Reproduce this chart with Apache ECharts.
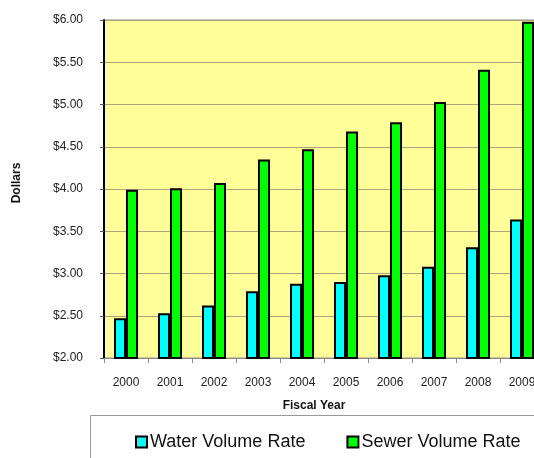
<!DOCTYPE html>
<html>
<head>
<meta charset="utf-8">
<script src="https://cdn.jsdelivr.net/npm/echarts@6/dist/echarts.min.js"></script>
<style>
  html, body { margin: 0; padding: 0; background: #fff; overflow: hidden; }
  /* the plot runs past the right edge of the window, as in the original */
  #chart { width: 570px; height: 458px; }
</style>
</head>
<body>
<div id="chart"></div>
<script>
const years = ['2000', '2001', '2002', '2003', '2004', '2005', '2006', '2007', '2008', '2009']
const waterRate = [2.47, 2.53, 2.62, 2.79, 2.88, 2.90, 2.98, 3.08, 3.31, 3.64]
const sewerRate = [3.99, 4.01, 4.07, 4.35, 4.47, 4.68, 4.79, 5.03, 5.41, 5.98]

const font = 'Liberation Sans, Arial, sans-serif'

const myChart = echarts.init(document.getElementById('chart'))

myChart.setOption({
  animation: false,
  textStyle: { fontFamily: font },
  grid: {
    left: 104,
    top: 20,
    width: 440,
    height: 338,
    show: true,
    backgroundColor: '#FFFF99',
    borderColor: '#8c8c8c',
    borderWidth: 1,
  },
  xAxis: {
    type: 'category',
    data: years,
    axisLine: { lineStyle: { color: '#8c8c8c', width: 1 } },
    axisTick: { show: true, length: 5, lineStyle: { color: '#8c8c8c' } },
    axisLabel: { color: '#222', fontSize: 12, margin: 19, fontFamily: font },
  },
  yAxis: {
    type: 'value',
    min: 2,
    max: 6,
    interval: 0.5,
    axisLine: { show: true, lineStyle: { color: '#000', width: 2 } },
    axisTick: { show: true, length: 4, lineStyle: { color: '#555' } },
    axisLabel: {
      color: '#222',
      fontSize: 12,
      margin: 21,
      fontFamily: font,
      formatter: (v) => '$' + v.toFixed(2),
    },
    splitLine: { lineStyle: { color: '#a8a57b', width: 1 } },
  },
  title: [
    {
      text: 'Fiscal Year',
      left: 309,
      top: 395,
      textAlign: 'center',
      textStyle: { fontSize: 12, fontWeight: 'bold', color: '#111', fontFamily: font },
    },
  ],
  graphic: [
    {
      type: 'text',
      x: 17,
      y: 183,
      rotation: Math.PI / 2,
      style: {
        text: 'Dollars',
        fontSize: 12,
        fontWeight: 'bold',
        fontFamily: font,
        fill: '#111',
        textAlign: 'center',
        textVerticalAlign: 'middle',
      },
    },
    {
      type: 'rect',
      shape: { x: 90.5, y: 415.5, width: 470, height: 60 },
      style: { fill: '#fff', stroke: '#999', lineWidth: 1 },
      z: -1,
    },
  ],
  legend: {
    left: 130,
    top: 428,
    itemWidth: 11,
    itemHeight: 11,
    itemGap: 41,
    icon: 'rect',
    textStyle: { fontSize: 18, color: '#111', fontFamily: font, padding: [0, 0, 0, -2] },
    data: ['Water Volume Rate', 'Sewer Volume Rate'],
  },
  series: [
    {
      name: 'Water Volume Rate',
      type: 'bar',
      data: waterRate,
      barWidth: 12,
      barGap: '0%',
      itemStyle: { color: '#00FFFF', borderColor: '#000', borderWidth: 2 },
    },
    {
      name: 'Sewer Volume Rate',
      type: 'bar',
      data: sewerRate,
      barWidth: 12,
      itemStyle: { color: '#00FF00', borderColor: '#000', borderWidth: 2 },
    },
  ],
})
</script>
</body>
</html>
